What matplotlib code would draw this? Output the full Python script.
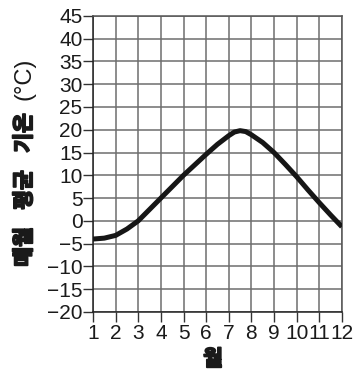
import matplotlib
matplotlib.use("Agg")
import matplotlib.pyplot as plt
import matplotlib.patheffects as pe

# monthly mean temperature (half-month steps, extra points near the peak)
months = [1, 1.5, 2, 2.5, 3, 3.5, 4, 4.5, 5, 5.5, 6, 6.5, 7, 7.25, 7.5, 7.75, 8, 8.5, 9, 9.5, 10, 10.5, 11, 11.5, 12]
temps = [-4.0, -3.8, -3.2, -1.8, 0.0, 2.5, 5.0, 7.5, 10.0, 12.3, 14.6, 16.8, 18.7, 19.5, 19.8, 19.6, 18.9, 17.2, 15.0, 12.4, 9.7, 6.8, 4.0, 1.3, -1.3]

xticks = list(range(1, 13))
yticks = list(range(-20, 50, 5))

plt.rcParams['font.family'] = ['Liberation Sans', 'DejaVu Sans']
kr = ['Noto Sans CJK KR', 'DejaVu Sans']
heavy = [pe.withStroke(linewidth=1.3, foreground='#1a1a1a')]

fig = plt.figure(figsize=(3.55, 3.70), dpi=100)
ax = fig.add_axes([0.262, 0.157, 0.701, 0.800])

ax.plot(months, temps, color='#161616', lw=3.6, solid_capstyle='butt', zorder=3)

ax.set_xlim(1, 12)
ax.set_ylim(-20, 45)
ax.set_xticks(xticks)
ax.set_yticks(yticks)
ax.set_xticklabels([str(m) for m in xticks])
ax.set_yticklabels([str(v).replace('-', '\u2212') for v in yticks])
ax.tick_params(axis='both', labelsize=15, length=7, width=1, color='#333333', labelcolor='#1a1a1a')
ax.tick_params(axis='y', pad=0.5)
ax.tick_params(axis='x', pad=2)
ax.grid(True, color='#6e6e6e', lw=1.1)
ax.set_axisbelow(True)
for s in ax.spines.values():
    s.set_color('#555555')
    s.set_linewidth(1.1)
ax.spines['left'].set_color('#222222')
ax.spines['bottom'].set_color('#222222')

# y label: bold korean words, plain unit
for word, yc in [('매월', 247), ('평균', 190), ('기온', 133)]:
    fig.text(0.068, 1 - yc / 370, word, rotation=90, ha='center', va='center', color='#1a1a1a',
             fontsize=15.5, fontweight='bold', family=kr, path_effects=heavy)
fig.text(0.07, 1 - 79 / 370, '(°C)', rotation=90, ha='center', va='center', fontsize=17,
         color='#1a1a1a')
fig.text(213 / 355, 1 - 359 / 370, '월', ha='center', va='center', fontsize=15.5, color='#1a1a1a',
         fontweight='bold', family=kr, path_effects=heavy)

fig.savefig('out.png', dpi=100)
